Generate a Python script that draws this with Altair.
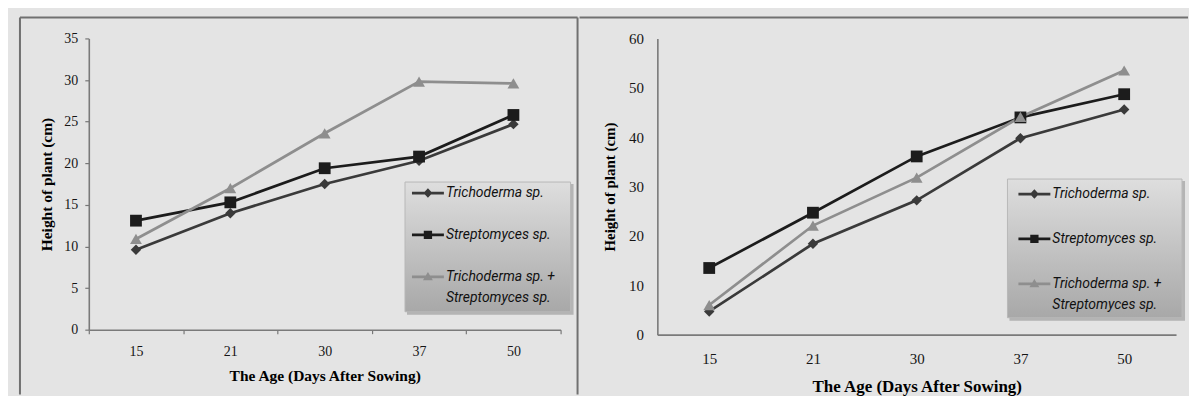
import altair as alt
import pandas as pd

days = ["15", "21", "30", "37", "50"]
series = ["Trichoderma sp.", "Streptomyces sp.", "Trichoderma sp. + Streptomyces sp."]

left_tricho = [9.6, 14.0, 17.5, 20.3, 24.7]
left_strepto = [13.1, 15.3, 19.4, 20.8, 25.8]
left_combo = [10.9, 17.0, 23.6, 29.8, 29.6]

right_tricho = [4.7, 18.4, 27.2, 39.8, 45.6]
right_strepto = [13.5, 24.7, 36.1, 44.0, 48.7]
right_combo = [6.0, 22.1, 31.8, 44.1, 53.5]

colors = ["#3a3a3a", "#1c1c1c", "#8e8e8e"]
shapes = ["diamond", "square", "triangle-up"]
sizes = [110, 140, 140]

BAR = "M-1,-0.085L1,-0.085L1,0.085L-1,0.085Z"
legend_paths = [
    BAR + " M0,-0.3L0.28,0L0,0.3L-0.28,0Z",
    BAR + " M-0.26,-0.26L0.26,-0.26L0.26,0.26L-0.26,0.26Z",
    BAR + " M0,-0.3L0.31,0.22L-0.31,0.22Z",
]

BG = "#e4e4e4"
FRAME = "#707070"
SERIF = "Liberation Serif"


def rule(x1, x2, y1, y2):
    one = pd.DataFrame({"k": [0]})
    return alt.Chart(one).mark_rule(stroke=FRAME, strokeWidth=2).encode(
        x=alt.value(x1), x2=alt.value(x2), y=alt.value(y1), y2=alt.value(y2))


def panel(vals, ymax, ystep, w, h, frame_rules, box, lx, ly, rp, ticks,
          xlp, xtp, ylp, ytp, xts, yts, lfs):
    rows = []
    for s, arr in zip(series, vals):
        for d, v in zip(days, arr):
            rows.append({"series": s, "day": d, "value": v})
    df = pd.DataFrame(rows)
    one = pd.DataFrame({"k": [0]})

    x = alt.X(
        "day:O", sort=days, bandPosition=0.5,
        scale=alt.Scale(type="band", paddingInner=0, paddingOuter=0),
        axis=alt.Axis(title="The Age (Days After Sowing)", labelAngle=0,
                      ticks=ticks, tickSize=4 if ticks else 0, tickBand="extent",
                      tickColor="#777777", tickWidth=1.2, labelFontSize=lfs,
                      labelPadding=xlp, titlePadding=xtp, titleFontSize=xts),
    )
    y = alt.Y(
        "value:Q",
        scale=alt.Scale(domain=[0, ymax], nice=False, zero=True),
        axis=alt.Axis(values=list(range(0, ymax + 1, ystep)), title="Height of plant  (cm)",
                      grid=False, ticks=ticks, tickSize=4 if ticks else 0,
                      tickColor="#777777", tickWidth=1.2, labelFontSize=lfs,
                      labelPadding=ylp, titlePadding=ytp, titleFontSize=yts),
    )
    cscale = alt.Scale(domain=series, range=colors)
    leg = alt.Legend(
        title=None, orient="none", legendX=lx, legendY=ly, padding=0, zindex=2,
        labelFont="Roboto", labelFontStyle="italic", labelFontSize=14,
        labelColor="#111111", labelLimit=400, labelOffset=2,
        symbolSize=1024, symbolStrokeWidth=0, symbolOpacity=1, rowPadding=rp,
        labelExpr="datum.label == 'Trichoderma sp. + Streptomyces sp.' ? "
                  "['Trichoderma sp. +', 'Streptomyces sp.'] : datum.label",
    )

    frames = [rule(*r) for r in frame_rules]

    bx1, bx2, by1, by2 = box
    shadow = alt.Chart(one).mark_rect(fill="#8c8c8c", opacity=0.55).encode(
        x=alt.value(bx1 + 2), x2=alt.value(bx2 + 3), y=alt.value(by1 + 2), y2=alt.value(by2 + 3))
    boxl = alt.Chart(one).mark_rect(
        fill=alt.Gradient(gradient="linear", x1=0, y1=0, x2=0, y2=1,
                          stops=[alt.GradientStop(offset=0, color="#dedede"),
                                 alt.GradientStop(offset=1, color="#a8a8a8")]),
        stroke="#b8b8b8", strokeWidth=1,
    ).encode(x=alt.value(bx1), x2=alt.value(bx2), y=alt.value(by1), y2=alt.value(by2))

    base = alt.Chart(df)
    lines = []
    pts = []
    for s, c, sh, sz in zip(series, colors, shapes, sizes):
        sub = base.transform_filter(alt.datum.series == s)
        lines.append(sub.mark_line(strokeWidth=2.7, color=c).encode(x=x, y=y))
        pts.append(sub.mark_point(shape=sh, filled=True, size=sz, opacity=1,
                                  strokeWidth=0, color=c).encode(x=x, y=y))
    legl = base.mark_point(filled=True, opacity=1, size=0, strokeWidth=0).encode(
        x=x, y=y,
        color=alt.Color("series:N", scale=cscale, legend=leg),
        shape=alt.Shape("series:N", scale=alt.Scale(domain=series, range=legend_paths), legend=leg),
    )
    return alt.layer(*frames, shadow, boxl, *lines, *pts, legl).properties(width=w, height=h)


left = panel([left_tricho, left_strepto, left_combo], 35, 5, 473, 292,
             [(-69, 490, -21, -21), (-69, -69, -21, 357), (490, 490, -21, 357)],
             (317, 483, 144, 274), 324, 139, 19, True, 11, 10, 7, 9, 15.5, 15.5, 14)
right = panel([right_tricho, right_strepto, right_combo], 60, 10, 520, 297,
              [(-78, 532, -21, -21)],
              (351, 526, 141, 280), 362, 140, 22, False, 17, 12, 14, 11, 17, 15, 15)

chart = alt.hconcat(left, right, spacing=0).resolve_scale(
    color="independent", shape="independent", y="independent", x="independent"
).resolve_legend(color="independent", shape="independent").properties(
    background=BG, padding={"left": 11, "top": 8, "right": 0, "bottom": 0}
).configure(
    style={"guide-label": {"lineHeight": 21}}
).configure_view(stroke=None).configure_axis(
    domainColor="#7a7a7a", domainWidth=1.6,
    labelFont=SERIF, labelFontSize=14, labelColor="#151515",
    titleFont=SERIF, titleFontWeight="bold", titleFontSize=14, titleColor="#000000",
)

chart.save("out.html", embed_options={"renderer": "svg", "actions": False})
